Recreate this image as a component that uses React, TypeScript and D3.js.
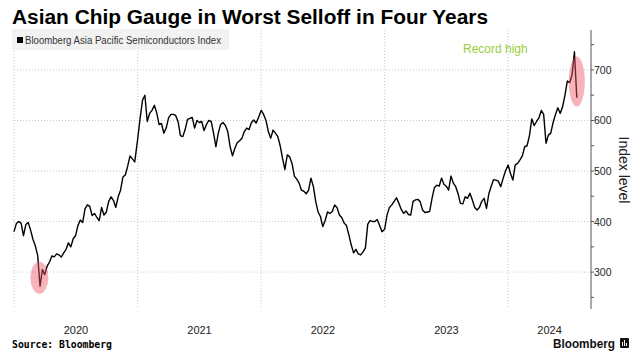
import React, { useEffect, useRef } from 'react';
import * as d3 from 'd3';

const W = 644;
const H = 360;

const title = 'Asian Chip Gauge in Worst Selloff in Four Years';
const seriesName = 'Bloomberg Asia Pacific Semiconductors Index';
const yAxisTitle = 'Index level';
const years = [2020, 2021, 2022, 2023, 2024];
const yTicks = [300, 400, 500, 600, 700];
const yMinorTicks = [250, 350, 450, 550, 650, 750];

// weekly readings, one list per calendar year
const weekly2020 = [
  380, 396, 400, 397, 372, 394, 398, 383, 365, 352, 333, 272, 305, 295, 312, 320,
  332, 330, 336, 334, 330, 338, 345, 358, 350, 366, 372, 392, 403, 398, 425, 433,
  430, 412, 416, 408, 402, 428, 413, 419, 440, 449, 442, 428, 449, 462, 488, 492,
  509, 530, 524, 518
];
const weekly2021 = [
  565, 605, 640, 650, 598, 614, 620, 630, 615, 592, 594, 575, 585, 605, 612, 612,
  610, 598, 570, 568, 582, 602, 604, 606, 585, 600, 596, 598, 580, 592, 600, 598,
  575, 548, 575, 592, 596, 590, 578, 548, 530, 545, 556, 560, 565, 578, 585, 582,
  596, 601, 595, 606
];
const weekly2022 = [
  620, 612, 600, 578, 565, 581, 575, 568, 550, 525, 503, 532, 528, 515, 490, 484,
  476, 462, 460, 455, 462, 486, 470, 440, 419, 410, 390, 402, 419, 416, 420, 433,
  428, 413, 408, 397, 392, 374, 354, 338, 345, 336, 334, 340, 348, 395, 402, 400,
  400, 404, 392, 380
];
const weekly2023 = [
  385, 413, 428, 433, 440, 447, 436, 424, 416, 421, 414, 413, 440, 443, 444, 439,
  423, 418, 419, 420, 446, 467, 472, 470, 486, 474, 470, 462, 490, 476, 469, 455,
  436, 435, 449, 446, 456, 443, 428, 423, 428, 440, 446, 426, 455, 470, 483, 482,
  480, 469, 485, 500
];
const weekly2024 = [
  512, 495, 482, 512, 515, 522, 530, 548, 550, 570, 603, 590, 598, 605, 620, 612,
  555, 571, 575, 596, 612, 625, 614, 627, 650, 678, 675, 690, 736, 645
];
const weeklyByYear = [weekly2020, weekly2021, weekly2022, weekly2023, weekly2024];

// circled spots: the Covid trough and the record high
const highlightDates = [new Date(2020, 2, 16), new Date(2024, 6, 22)];
const highlightValues = [289, 677];
const highlightRadii = [[9, 16], [8, 25]];

export default function App() {
  const ref = useRef(null);

  useEffect(() => {
    const svg = d3.select(ref.current);
    svg.selectAll('*').remove();

    const data = [];
    years.forEach((yr, i) => {
      weeklyByYear[i].forEach((v, w) => {
        data.push({ date: d3.timeDay.offset(new Date(yr, 0, 1), w * 7), value: v });
      });
    });

    const left = 14;
    const right = 591;
    const top = 30;
    const bottom = 309;
    const endDate = new Date(2024, 8, 2);

    const x = d3.scaleTime().domain([new Date(2020, 0, 1), endDate]).range([left, right]);
    const y = d3.scaleLinear().domain([227, 779]).range([bottom, top]);

    const font = "'Liberation Sans', Arial, sans-serif";

    svg.append('rect').attr('width', W).attr('height', H).attr('fill', '#fff');

    // title
    svg.append('text')
      .attr('x', 12).attr('y', 24)
      .attr('font-family', font).attr('font-weight', 'bold').attr('font-size', 20)
      .attr('textLength', 476).attr('lengthAdjust', 'spacingAndGlyphs')
      .attr('fill', '#000')
      .text(title);

    // grid
    const grid = svg.append('g');
    grid.selectAll('line.h').data(yTicks).enter().append('line')
      .attr('x1', left).attr('x2', right)
      .attr('y1', d => y(d)).attr('y2', d => y(d))
      .attr('stroke', '#c8c8c8').attr('stroke-dasharray', '1,2');
    const yearStarts = years.map(yr => new Date(yr, 0, 1));
    grid.selectAll('line.v').data(yearStarts).enter().append('line')
      .attr('x1', d => x(d)).attr('x2', d => x(d))
      .attr('y1', top).attr('y2', bottom)
      .attr('stroke', '#c8c8c8').attr('stroke-dasharray', '1,2');

    // year labels, centered on the visible part of each year
    svg.append('g').selectAll('text').data(years).enter().append('text')
      .attr('x', yr => {
        const a = x(new Date(yr, 0, 1));
        const b = x(d3.min([new Date(yr + 1, 0, 1), endDate]));
        return (a + b) / 2;
      })
      .attr('y', 334)
      .attr('text-anchor', 'middle')
      .attr('font-family', font).attr('font-size', 11).attr('fill', '#222')
      .text(d => d);

    // legend
    svg.append('rect').attr('x', 12).attr('y', 29).attr('width', 217).attr('height', 21).attr('fill', '#f2f2f2');
    svg.append('rect').attr('x', 17).attr('y', 37).attr('width', 6).attr('height', 6).attr('fill', '#000');
    svg.append('text')
      .attr('x', 25).attr('y', 44)
      .attr('font-family', font).attr('font-size', 10).attr('fill', '#333')
      .attr('textLength', 196).attr('lengthAdjust', 'spacingAndGlyphs')
      .text(seriesName);

    // right axis
    const axis = svg.append('g');
    axis.append('line')
      .attr('x1', right).attr('x2', right).attr('y1', top).attr('y2', bottom)
      .attr('stroke', '#555');
    axis.selectAll('line.major').data(yTicks).enter().append('line')
      .attr('x1', right).attr('x2', right + 3)
      .attr('y1', d => y(d)).attr('y2', d => y(d)).attr('stroke', '#555');
    axis.selectAll('line.minor').data(yMinorTicks).enter().append('line')
      .attr('x1', right).attr('x2', right + 3)
      .attr('y1', d => y(d)).attr('y2', d => y(d)).attr('stroke', '#555');
    axis.selectAll('text').data(yTicks).enter().append('text')
      .attr('x', right + 3).attr('y', d => y(d) + 4)
      .attr('font-family', font).attr('font-size', 10.5).attr('fill', '#222')
      .text(d => d);
    svg.append('text')
      .attr('transform', 'translate(619,170) rotate(90)')
      .attr('text-anchor', 'middle')
      .attr('font-family', font).attr('font-size', 14).attr('fill', '#222')
      .text(yAxisTitle);

    // series
    const line = d3.line()
      .x(d => x(d.date))
      .y(d => y(d.value));
    svg.append('path')
      .datum(data)
      .attr('d', line)
      .attr('fill', 'none')
      .attr('stroke', '#000')
      .attr('stroke-width', 1.4)
      .attr('stroke-linejoin', 'round');

    // highlight ellipses
    svg.append('g').selectAll('ellipse').data(highlightDates).enter().append('ellipse')
      .attr('cx', d => x(d))
      .attr('cy', (d, i) => y(highlightValues[i]))
      .attr('rx', (d, i) => highlightRadii[i][0])
      .attr('ry', (d, i) => highlightRadii[i][1])
      .attr('fill', '#ee5566').attr('fill-opacity', 0.45);

    svg.append('text')
      .attr('x', 463).attr('y', 53)
      .attr('font-family', font).attr('font-size', 12).attr('fill', '#9acd3c')
      .text('Record high');

    // footer
    svg.append('text')
      .attr('x', 12).attr('y', 348)
      .attr('font-family', "'DejaVu Sans Mono', monospace").attr('font-weight', 'bold')
      .attr('font-size', 10).attr('fill', '#000')
      .attr('textLength', 100).attr('lengthAdjust', 'spacingAndGlyphs')
      .text('Source: Bloomberg');
    svg.append('text')
      .attr('x', 553).attr('y', 348)
      .attr('font-family', font).attr('font-weight', 600).attr('font-size', 13.5).attr('fill', '#111')
      .attr('textLength', 62).attr('lengthAdjust', 'spacingAndGlyphs')
      .text('Bloomberg');
    const logo = svg.append('g').attr('transform', 'translate(620,338)');
    logo.append('rect').attr('width', 9).attr('height', 10).attr('rx', 1).attr('fill', '#111');
    [2, 4, 6].forEach((bx, i) => {
      const h0 = [4, 2, 5][i];
      logo.append('rect').attr('x', bx).attr('y', h0).attr('width', 1).attr('height', 8 - h0).attr('fill', '#fff');
    });
  }, []);

  return (
    <svg ref={ref} width={W} height={H} style={{ display: 'block', position: 'absolute', left: 0, top: 0 }} />
  );
}
